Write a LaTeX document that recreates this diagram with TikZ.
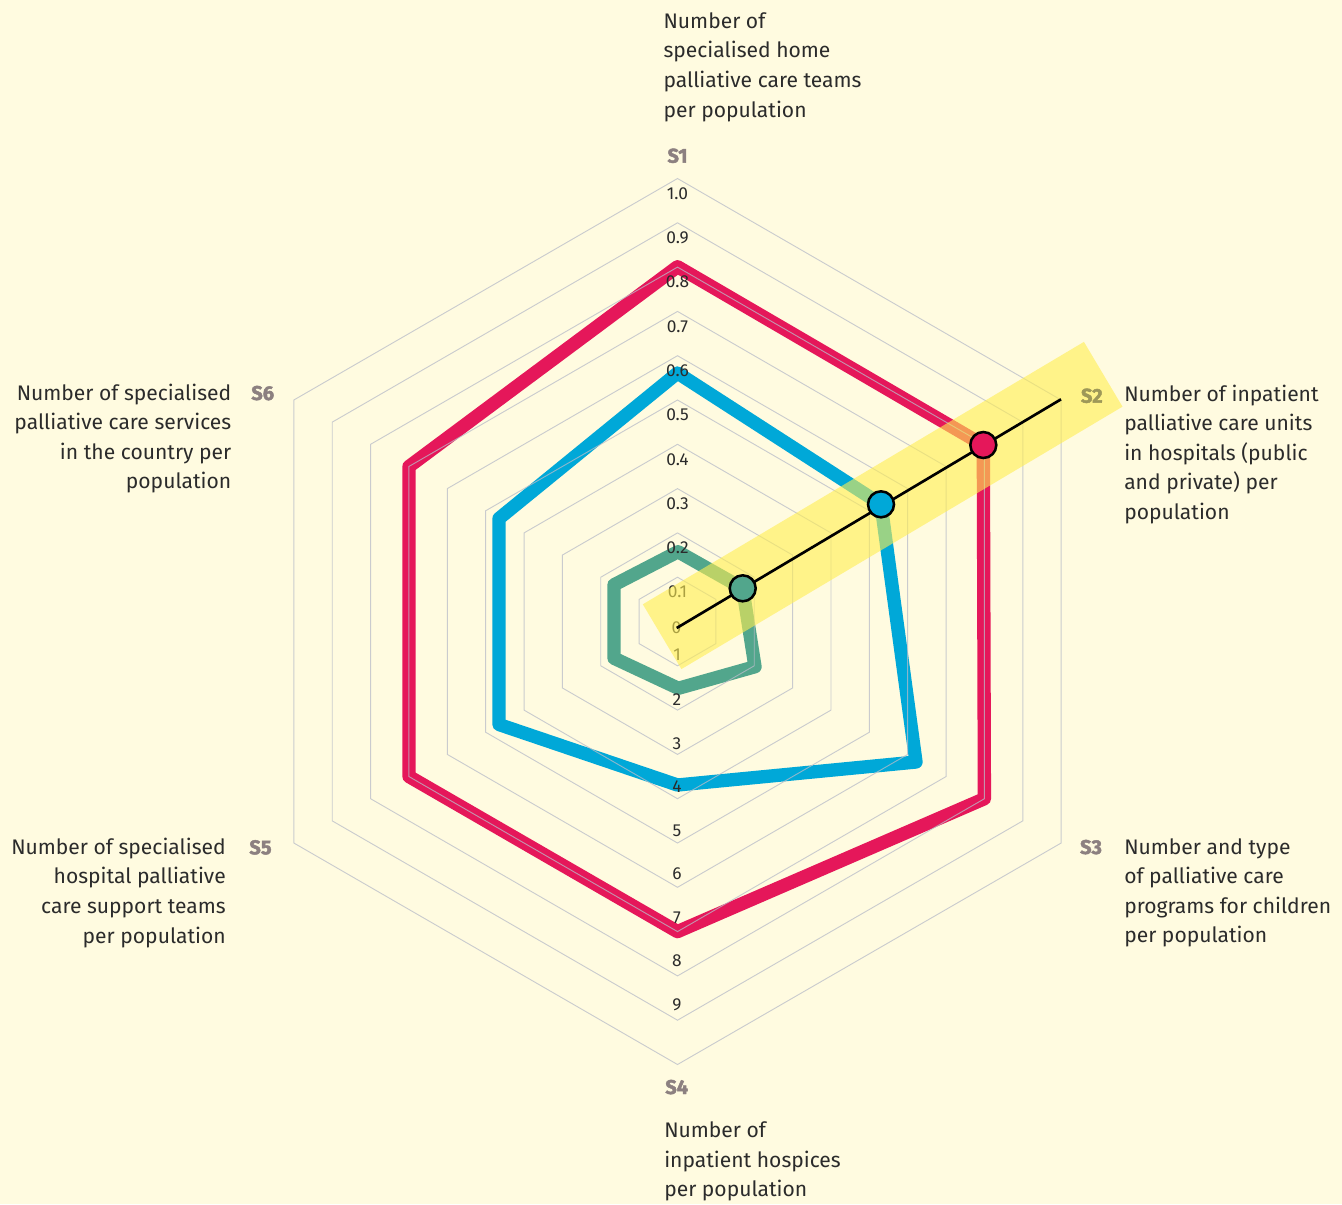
\documentclass[tikz,border=0pt]{standalone}
\usepackage{fontspec}
\setmainfont{Fira Sans}
\newfontfamily\heavyfont{Fira Sans}[FakeBold=2.2]
\usetikzlibrary{calc}
\definecolor{bgc}{HTML}{FFFBE0}
\definecolor{ringc}{HTML}{B9BCC8}
\definecolor{redc}{HTML}{E5175A}
\definecolor{bluec}{HTML}{00A8D8}
\definecolor{greenc}{HTML}{52A68C}
\definecolor{bandc}{HTML}{FFEE50}
\definecolor{slc}{HTML}{8C8080}
\definecolor{sltwo}{HTML}{9E9858}
\definecolor{txtc}{HTML}{2B2B2B}
\begin{document}
\begin{tikzpicture}[x=0.75pt,y=-0.75pt,
  ring/.style={draw=ringc, line width=0.7pt, draw opacity=0.75},
  series/.style={line width=10pt, line join=round},
  marker/.style={circle, draw=black, line width=1.9pt, minimum size=19.5pt, inner sep=0pt},
  lbl/.style={inner sep=0pt, text=txtc, font=\fontsize{15.8}{22.2}\selectfont},
  slabel/.style={inner sep=0pt, text=slc, font=\fontsize{15}{17}\selectfont\heavyfont\bfseries, anchor=base},
  scalelbl/.style={inner sep=0pt, text=txtc, font=\fontsize{13}{14}\selectfont}]
\fill[bgc] (0,0) rectangle (1342,1204);
\useasboundingbox (0,0) rectangle (1342,1204);
% series
\draw[series, draw=greenc] (678,551.7) -- (742.7,588.3) -- (755,666.7) -- (678.3,688.3) -- (614,658.2) -- (614,584.8) -- cycle;
\draw[series, draw=bluec] (677.5,373) -- (881,504.3) -- (916,762) -- (677.5,785) -- (499,724.5) -- (499,518.5) -- cycle;
\draw[series, draw=redc] (677.5,266.7) -- (983.3,445) -- (984.4,798.7) -- (677.5,931.6) -- (409,776.5) -- (409,466.5) -- cycle;
% rings
\begin{scope}[shift={(677.5,621.5)}]
\foreach \k in {1,...,10}
  \draw[ring] (-90:{\k*44.3}) -- (-30:{\k*44.3}) -- (30:{\k*44.3}) -- (90:{\k*44.3}) -- (150:{\k*44.3}) -- (210:{\k*44.3}) -- cycle;
\end{scope}
% scale labels
\foreach \k/\t in {1/0.1,2/0.2,3/0.3,4/0.4,5/0.5,6/0.6,7/0.7,8/0.8,9/0.9,10/1.0}
  \node[scalelbl] (top\k) at (677.5,{621.5-\k*44.3+15}) {\t};
\node[scalelbl] (zero) at (676.5,628) {0};
\foreach \k/\y in {1/655,2/700,3/743.5,4/787,5/830.5,6/874,7/917.5,8/961,9/1005}
  \node[scalelbl] (bot\k) at (677,\y) {\k};
% axis labels
\node[slabel] (s1) at (677.5,162.7) {S1};
\node[slabel] (s3) at (1091,854) {S3};
\node[slabel] (s4) at (676.7,1094) {S4};
\node[slabel] (s5) at (260.5,854.3) {S5};
\node[slabel] (s6) at (262.7,400) {S6};
\node[lbl, anchor=base west] (d1) at (663.3,28.3) {\begin{tabular}[t]{@{}l@{}}Number of\\ specialised home\\ palliative care teams\\ per population\end{tabular}};
\node[lbl, anchor=base west] (d2) at (1124,401) {\begin{tabular}[t]{@{}l@{}}Number of inpatient\\ palliative care units\\ in hospitals (public\\ and private) per\\ population\end{tabular}};
\node[lbl, anchor=base west] (d3) at (1124,854) {\begin{tabular}[t]{@{}l@{}}Number and type\\ of palliative care\\ programs for children\\ per population\end{tabular}};
\node[lbl, anchor=base west] (d4) at (664,1137.7) {\begin{tabular}[t]{@{}l@{}}Number of\\ inpatient hospices\\ per population\end{tabular}};
\node[lbl, anchor=base east] (d5) at (226,854.3) {\begin{tabular}[t]{@{}r@{}}Number of specialised\\ hospital palliative\\ care support teams\\ per population\end{tabular}};
\node[lbl, anchor=base east] (d6) at (231.5,400) {\begin{tabular}[t]{@{}r@{}}Number of specialised\\ palliative care services\\ in the country per\\ population\end{tabular}};
% highlight band
\coordinate (p0) at (676.7,628);
\coordinate (p1) at (1061,399.3);
\begin{scope}[shift={(p0)}, rotate=30.75]
\fill[bandc, fill opacity=0.6] (-17,-37.7) rectangle (496.3,37.7);
\end{scope}
\node[slabel, text=sltwo] (s2) at (1091.8,402.7) {S2};
\draw[line width=2pt, black] (p0) -- (p1);
\node[marker, fill=greenc] (mg) at (742.7,588.3) {};
\node[marker, fill=bluec] (mb) at (881,504.3) {};
\node[marker, fill=redc] (mr) at (983.3,445) {};
\end{tikzpicture}
\end{document}
